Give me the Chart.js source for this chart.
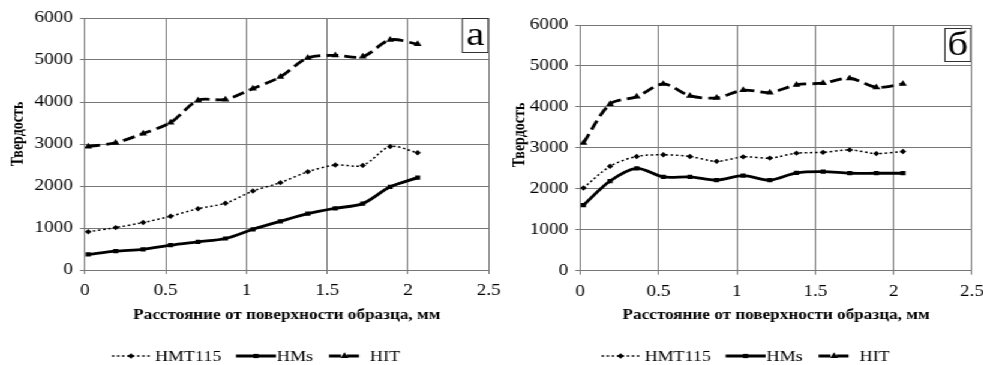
<!DOCTYPE html>
<html><head><meta charset="utf-8">
<script src="https://cdn.jsdelivr.net/npm/chart.js@4.4.1/dist/chart.umd.min.js"></script>
<style>
html,body{margin:0;padding:0;background:#fff;overflow:hidden;width:983px;height:365px;}
#stage{position:absolute;left:0;top:0;height:365px;transform-origin:0 0;}
.box{position:absolute;top:0;height:365px;}
</style></head><body>
<div id="stage">
  <div class="box" id="wa"><canvas id="ca"></canvas></div>
  <div class="box" id="wb"><canvas id="cb"></canvas></div>
</div>
<script>
// ---- data ----
const distance = [0.02, 0.19, 0.36, 0.53, 0.70, 0.87, 1.04, 1.21, 1.38, 1.55, 1.72, 1.89, 2.06];
const seriesNames = ['HMT115', 'HMs', 'HIT'];

const hmt115A = [910, 1010, 1130, 1280, 1460, 1590, 1880, 2080, 2340, 2500, 2490, 2940, 2790];
const hmsA    = [370, 450, 490, 590, 670, 750, 970, 1160, 1340, 1470, 1580, 1980, 2200];
const hitA    = [2940, 3030, 3250, 3510, 4040, 4060, 4320, 4600, 5050, 5110, 5080, 5480, 5380];

const hmt115B = [2020, 2550, 2790, 2830, 2790, 2670, 2780, 2750, 2870, 2890, 2950, 2860, 2910];
const hmsB    = [1600, 2190, 2500, 2290, 2290, 2210, 2320, 2210, 2390, 2420, 2380, 2380, 2380];
const hitB    = [3120, 4070, 4250, 4560, 4270, 4220, 4410, 4350, 4540, 4580, 4700, 4480, 4560];

const yTickLabels = ['0', '1000', '2000', '3000', '4000', '5000', '6000'];
const xTickLabels = ['0', '0.5', '1', '1.5', '2', '2.5'];
const xTitle = 'Расстояние от поверхности образца, мм';
const yTitle = 'Твердость';
const panelLetters = ['а', 'б'];

// ---- layout (horizontal stretch of the whole picture) ----
const S = 1.2;
const u = (px) => px / S;
const PANEL_W = 510;
document.getElementById('stage').style.width = u(983) + 'px';
document.getElementById('stage').style.transform = 'scaleX(' + S + ')';
const wa = document.getElementById('wa'), wb = document.getElementById('wb');
wa.style.left = '0px'; wa.style.width = u(PANEL_W) + 'px';
wb.style.left = u(490) + 'px'; wb.style.width = u(PANEL_W) + 'px';

// ---- styles ----
const SERIF = "'Liberation Serif','Times New Roman',serif";
const GRID = '#777';
const styles = [
  {borderWidth: 1.5, borderDash: [2, 2.2], pointStyle: 'rectRot', pointRadius: 2.7},
  {borderWidth: 2.8, borderDash: [], pointStyle: 'rect', pointRadius: 3},
  {borderWidth: 2.8, borderDash: [10, 5], pointStyle: 'triangle', pointRadius: 3.8}
];

function makeDatasets(arrs) {
  return arrs.map((vals, i) => ({
    label: seriesNames[i],
    data: distance.map((x, k) => ({x: x, y: vals[k]})),
    borderColor: '#000',
    backgroundColor: '#000',
    pointBackgroundColor: '#000',
    pointBorderColor: '#000',
    pointBorderWidth: 0,
    borderWidth: styles[i].borderWidth,
    borderDash: styles[i].borderDash,
    pointStyle: styles[i].pointStyle,
    pointRadius: styles[i].pointRadius,
    tension: 0.3,
    fill: false
  }));
}

const legendPlugin = {
  id: 'customLegend',
  afterDraw(chart) {
    const ctx = chart.ctx;
    const y = 356;
    const items = [
      {x0: u(112), x1: u(150), tx: u(155)},
      {x0: u(236), x1: u(276), tx: u(277)},
      {x0: u(329), x1: u(360), tx: u(370)}
    ];
    ctx.save();
    items.forEach((it, i) => {
      const st = styles[i];
      ctx.strokeStyle = '#000';
      ctx.lineWidth = st.borderWidth;
      ctx.setLineDash(st.borderDash);
      ctx.beginPath();
      ctx.moveTo(it.x0, y);
      ctx.lineTo(it.x1, y);
      ctx.stroke();
      ctx.setLineDash([]);
      ctx.fillStyle = '#000';
      Chart.helpers.drawPoint(ctx, {pointStyle: st.pointStyle, radius: st.pointRadius, borderWidth: 0}, (it.x0 + it.x1) / 2, y);
      ctx.font = "15px " + SERIF;
      ctx.textBaseline = 'middle';
      ctx.textAlign = 'left';
      ctx.fillText(seriesNames[i], it.tx, y + 1);
    });
    ctx.restore();
  }
};

const letterPlugin = {
  id: 'letterBox',
  afterDraw(chart, args, opts) {
    const a = chart.chartArea;
    const ctx = chart.ctx;
    const w = u(opts.w), h = opts.h;
    const x = a.right - w - u(opts.dx);
    const y = a.top + opts.dy;
    ctx.save();
    ctx.fillStyle = '#fff';
    ctx.fillRect(x, y, w, h);
    ctx.strokeStyle = '#333';
    ctx.lineWidth = 1;
    ctx.strokeRect(x + 0.5, y + 0.5, w - 1, h - 1);
    ctx.fillStyle = '#000';
    ctx.font = "34px " + SERIF;
    ctx.textAlign = 'center';
    ctx.textBaseline = 'middle';
    ctx.fillText(opts.text, x + w / 2, y + h / 2 + 1);
    // rotated y-axis title
    ctx.translate(u(opts.ytx), opts.yty);
    ctx.rotate(-Math.PI / 2);
    ctx.font = "bold 14px " + SERIF;
    ctx.fillText(yTitle, 0, 0);
    ctx.restore();
  }
};

function makeChart(id, arrs, cfg) {
  return new Chart(document.getElementById(id), {
    type: 'line',
    data: {datasets: makeDatasets(arrs)},
    plugins: [legendPlugin, letterPlugin],
    options: {
      responsive: true,
      maintainAspectRatio: false,
      animation: false,
      layout: {padding: {left: 0, top: cfg.top, right: u(PANEL_W - cfg.plotRight), bottom: 365 - 60 - cfg.plotBottom}},
      plugins: {
        legend: {display: false},
        tooltip: {enabled: false},
        letterBox: cfg.letter
      },
      scales: {
        x: {
          type: 'linear', min: 0, max: 2.5,
          ticks: {stepSize: 0.5, color: '#000', font: {family: SERIF, size: 16}, padding: 7,
                  callback: (v) => xTickLabels[Math.round(v / 0.5)]},
          grid: {color: GRID, lineWidth: 1, tickLength: 4},
          border: {color: GRID},
          title: {display: true, text: xTitle, color: '#000',
                  font: {family: SERIF, size: 14.3, weight: 'bold'}, padding: {top: 0, bottom: 6.5}},
          afterFit(s) { s.height = 60; }
        },
        y: {
          min: 0, max: 6000,
          ticks: {stepSize: 1000, color: '#000', font: {family: SERIF, size: 16}, padding: u(7),
                  callback: (v) => yTickLabels[Math.round(v / 1000)]},
          grid: {color: GRID, lineWidth: 1, tickLength: u(5)},
          border: {color: GRID},
          title: {display: false},
          afterFit(s) { s.width = u(cfg.plotLeft); }
        }
      }
    }
  });
}

makeChart('ca', [hmt115A, hmsA, hitA],
  {top: 18, plotLeft: 85, plotRight: 488.7, plotBottom: 270,
   letter: {text: panelLetters[0], w: 27, h: 35, dx: 0, dy: 0, ytx: 18, yty: 134}});
makeChart('cb', [hmt115B, hmsB, hitB],
  {top: 25, plotLeft: 90.7, plotRight: 482.3, plotBottom: 270.7,
   letter: {text: panelLetters[1], w: 27, h: 34, dx: 0.6, dy: 3, ytx: 30, yty: 135}});
</script>
</body></html>
